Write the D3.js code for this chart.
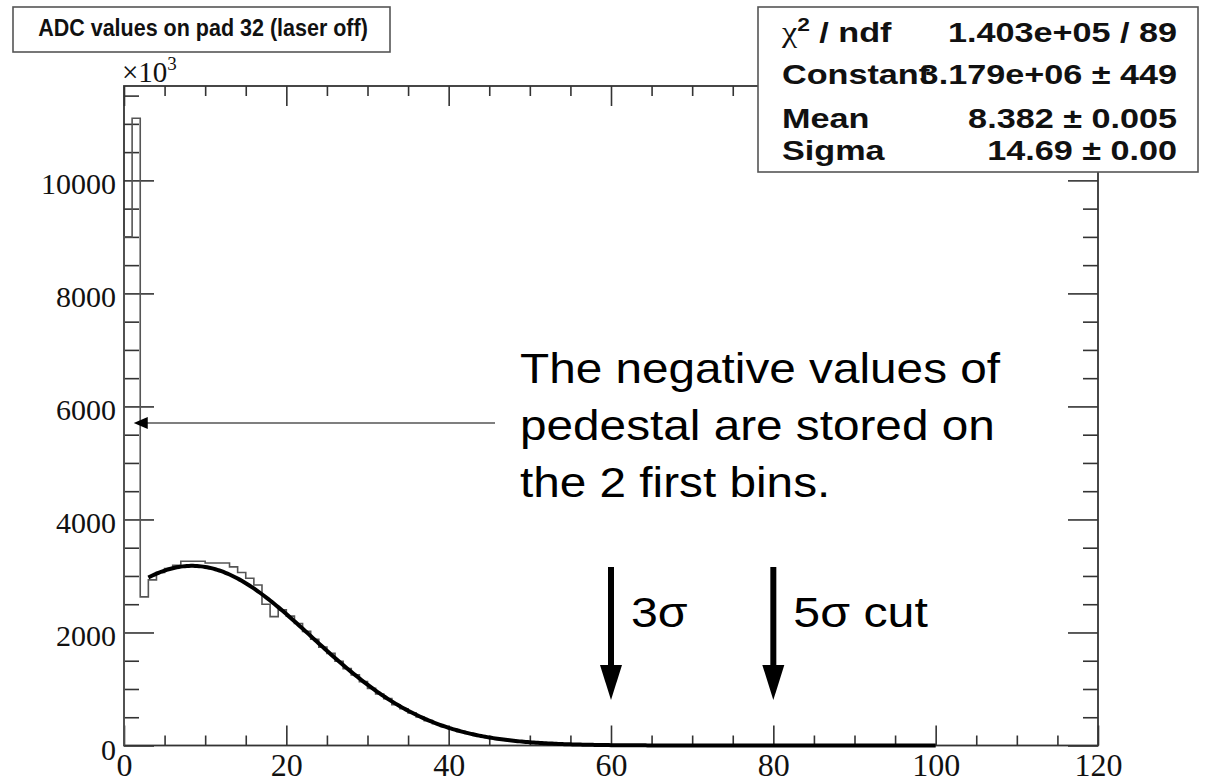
<!DOCTYPE html>
<html>
<head>
<meta charset="utf-8">
<script src="https://cdn.jsdelivr.net/npm/d3@7"></script>
<style>
  html, body { margin: 0; padding: 0; background: #fff; }
  svg { display: block; }
</style>
</head>
<body>
<svg id="chart" width="1205" height="777"></svg>
<script>
// ADC spectrum of pad 32 with laser off, counts in units of 10^3 per ADC bin (bin width 1)
const binEdgesStart = 0;
const adcCounts = [
  9000, 11100, 2630, 2930, 3060, 3130, 3190, 3260, 3260, 3260,
  3230, 3230, 3230, 3160, 3060, 2960, 2840, 2500, 2280, 2400,
  2290, 2160, 2020, 1880, 1740, 1630, 1490, 1360, 1250, 1130,
  1010, 910, 830, 720, 650, 575, 505, 440, 385, 335,
  290, 250, 212, 180, 153, 128, 108, 90, 75, 62,
  51, 42, 34, 28, 22, 18, 14, 11, 9, 7,
  5, 4, 3, 2, 2, 1, 1, 1, 1, 0,
  0, 0, 0, 0, 0, 0, 0, 0, 0, 0,
  0, 0, 0, 0, 0, 0, 0, 0, 0, 0,
  0, 0, 0, 0, 0, 0, 0, 0, 0, 0
];

// Gaussian fit results
const fitConstant = 3.179e6;
const fitMean = 8.382;
const fitSigma = 14.69;
const fitRange = [3, 100];

const statLabels = ["χ² / ndf", "Constant", "Mean", "Sigma"];
const statValues = ["1.403e+05 / 89", "3.179e+06 ± 449", "8.382 ± 0.005", "14.69 ± 0.00"];

const xMajorTicks = [0, 20, 40, 60, 80, 100, 120];
const yMajorTicks = [0, 2000, 4000, 6000, 8000, 10000];

const titleText = "ADC values on pad 32 (laser off)";
const noteLines = ["The negative values of", "pedestal are stored on", "the 2 first bins."];
const cutMarks = [{ x: 60, label: "3σ" }, { x: 80, label: "5σ cut" }];

const svg = d3.select("#chart");
const frame = { left: 124, right: 1098, top: 86, bottom: 745.5 };

const x = d3.scaleLinear().domain([0, 120]).range([frame.left, frame.right]);
const y = d3.scaleLinear().domain([0, 11670]).range([frame.bottom, frame.top]);

const axisColor = "#333";
const serif = "'Liberation Serif', 'DejaVu Serif', serif";
const sans = "'Liberation Sans', Arial, sans-serif";

// minor tick values
const xMinor = d3.range(0, 120.01, 5).filter(v => v % 20 !== 0);
const yMinor = d3.range(0, 11600, 500).filter(v => v % 2000 !== 0);

function styleAxis(g) {
  g.select(".domain").remove();
  g.selectAll(".tick line").attr("stroke", axisColor).attr("stroke-width", 1.6);
}

// bottom axis: labelled major ticks and minor ticks, pointing into the frame
svg.append("g").attr("transform", `translate(0,${frame.bottom})`)
  .call(d3.axisBottom(x).tickValues(xMajorTicks).tickSize(-20).tickPadding(12).tickFormat(d3.format("d")))
  .call(styleAxis)
  .call(g => g.selectAll("text").attr("font-family", serif).attr("font-size", 32)
    .attr("fill", "#111").attr("dy", null).attr("y", 30.5));
svg.append("g").attr("transform", `translate(0,${frame.bottom})`)
  .call(d3.axisBottom(x).tickValues(xMinor).tickSize(-10).tickFormat(""))
  .call(styleAxis);

// top axis ticks
svg.append("g").attr("transform", `translate(0,${frame.top})`)
  .call(d3.axisTop(x).tickValues(xMajorTicks).tickSize(-20).tickFormat(""))
  .call(styleAxis);
svg.append("g").attr("transform", `translate(0,${frame.top})`)
  .call(d3.axisTop(x).tickValues(xMinor).tickSize(-10).tickFormat(""))
  .call(styleAxis);

// left axis
svg.append("g").attr("transform", `translate(${frame.left},0)`)
  .call(d3.axisLeft(y).tickValues(yMajorTicks).tickSize(-30).tickPadding(8).tickFormat(d3.format("d")))
  .call(styleAxis)
  .call(g => g.selectAll("text").attr("font-family", serif).attr("font-size", 30)
    .attr("fill", "#111").attr("dy", "0.45em").attr("x", -8));
svg.append("g").attr("transform", `translate(${frame.left},0)`)
  .call(d3.axisLeft(y).tickValues(yMinor).tickSize(-15).tickFormat(""))
  .call(styleAxis);

// right axis ticks
svg.append("g").attr("transform", `translate(${frame.right},0)`)
  .call(d3.axisRight(y).tickValues(yMajorTicks).tickSize(-30).tickFormat(""))
  .call(styleAxis);
svg.append("g").attr("transform", `translate(${frame.right},0)`)
  .call(d3.axisRight(y).tickValues(yMinor).tickSize(-15).tickFormat(""))
  .call(styleAxis);

// frame
svg.append("rect")
  .attr("x", frame.left).attr("y", frame.top)
  .attr("width", frame.right - frame.left).attr("height", frame.bottom - frame.top)
  .attr("fill", "none").attr("stroke", axisColor).attr("stroke-width", 1.8);

// ×10^3 multiplier
svg.append("text").attr("x", frame.left - 2).attr("y", 82)
  .attr("font-family", serif).attr("font-size", 29).attr("fill", "#111")
  .text("×10")
  .append("tspan").attr("dy", -12).attr("font-size", 19).text("3");

// histogram outline
const histPoints = [[binEdgesStart, 0]]
  .concat(adcCounts.map((v, i) => [binEdgesStart + i, v]))
  .concat([[binEdgesStart + adcCounts.length, 0]]);
svg.append("path")
  .datum(histPoints)
  .attr("fill", "none").attr("stroke", "#555").attr("stroke-width", 1.6)
  .attr("d", d3.line().x(d => x(d[0])).y(d => y(d[1])).curve(d3.curveStepAfter));

// fitted gaussian (axis is in units of 10^3 counts)
const gauss = v => fitConstant / 1000 * Math.exp(-0.5 * Math.pow((v - fitMean) / fitSigma, 2));
const fitPts = d3.range(fitRange[0], fitRange[1] + 0.001, 0.25).map(v => [v, gauss(v)]);
svg.append("path")
  .datum(fitPts)
  .attr("fill", "none").attr("stroke", "#000").attr("stroke-width", 4)
  .attr("stroke-linejoin", "round")
  .attr("d", d3.line().x(d => x(d[0])).y(d => y(d[1])).curve(d3.curveLinear));

// title box
const title = svg.append("g");
title.append("rect").attr("x", 13).attr("y", 7).attr("width", 377).attr("height", 45)
  .attr("fill", "#fff").attr("stroke", "#555").attr("stroke-width", 1.6);
title.append("text").attr("transform", "translate(203,36) scale(0.915,1)").attr("text-anchor", "middle")
  .attr("font-family", sans).attr("font-weight", "bold").attr("font-size", 23.5).attr("fill", "#111")
  .text(titleText);

// fit statistics box
const stats = svg.append("g");
stats.append("rect").attr("x", 758).attr("y", 7).attr("width", 440).attr("height", 165)
  .attr("fill", "#fff").attr("stroke", "#555").attr("stroke-width", 1.6);
const rowBase = [42, 84, 128, 160];
const statScale = 1.2;
statLabels.forEach((lab, i) => {
  const t = stats.append("text").attr("transform", `translate(782,${rowBase[i]}) scale(${statScale},1)`)
    .attr("font-family", sans).attr("font-weight", "bold").attr("font-size", 28.5).attr("fill", "#111");
  if (i === 0) {
    t.append("tspan").attr("font-family", serif).attr("font-weight", "normal").text("χ");
    t.append("tspan").attr("dy", -11).attr("font-size", 19).text("2");
    t.append("tspan").attr("dy", 11).text(" / ndf");
  } else {
    t.text(lab);
  }
  stats.append("text").attr("transform", `translate(1177,${rowBase[i]}) scale(${statScale},1)`)
    .attr("text-anchor", "end")
    .attr("font-family", sans).attr("font-weight", "bold").attr("font-size", 28.5).attr("fill", "#111")
    .text(statValues[i]);
});

// annotation pointing at the first two bins
const note = svg.append("g");
noteLines.forEach((ln, i) => {
  note.append("text").attr("transform", `translate(520,${383 + i * 57}) scale(1.11,1)`)
    .attr("font-family", sans).attr("font-size", 43).attr("fill", "#000").text(ln);
});
const arrowY = 423;
note.append("line").attr("x1", 495).attr("x2", x(1.9)).attr("y1", arrowY).attr("y2", arrowY)
  .attr("stroke", "#000").attr("stroke-width", 1.2);
note.append("path")
  .attr("d", `M${x(1.2)},${arrowY} l14,-6 l0,12 z`).attr("fill", "#000");

// cut arrows
cutMarks.forEach(c => {
  const cx = x(c.x);
  svg.append("line").attr("x1", cx).attr("x2", cx).attr("y1", 567).attr("y2", 668)
    .attr("stroke", "#000").attr("stroke-width", 6);
  svg.append("path").attr("d", `M${cx - 11},665 L${cx + 11},665 L${cx},700 Z`).attr("fill", "#000");
  svg.append("text").attr("transform", `translate(${cx + 20},627) scale(1.15,1)`)
    .attr("font-family", sans).attr("font-size", 42).attr("fill", "#000").text(c.label);
});
</script>
</body>
</html>
